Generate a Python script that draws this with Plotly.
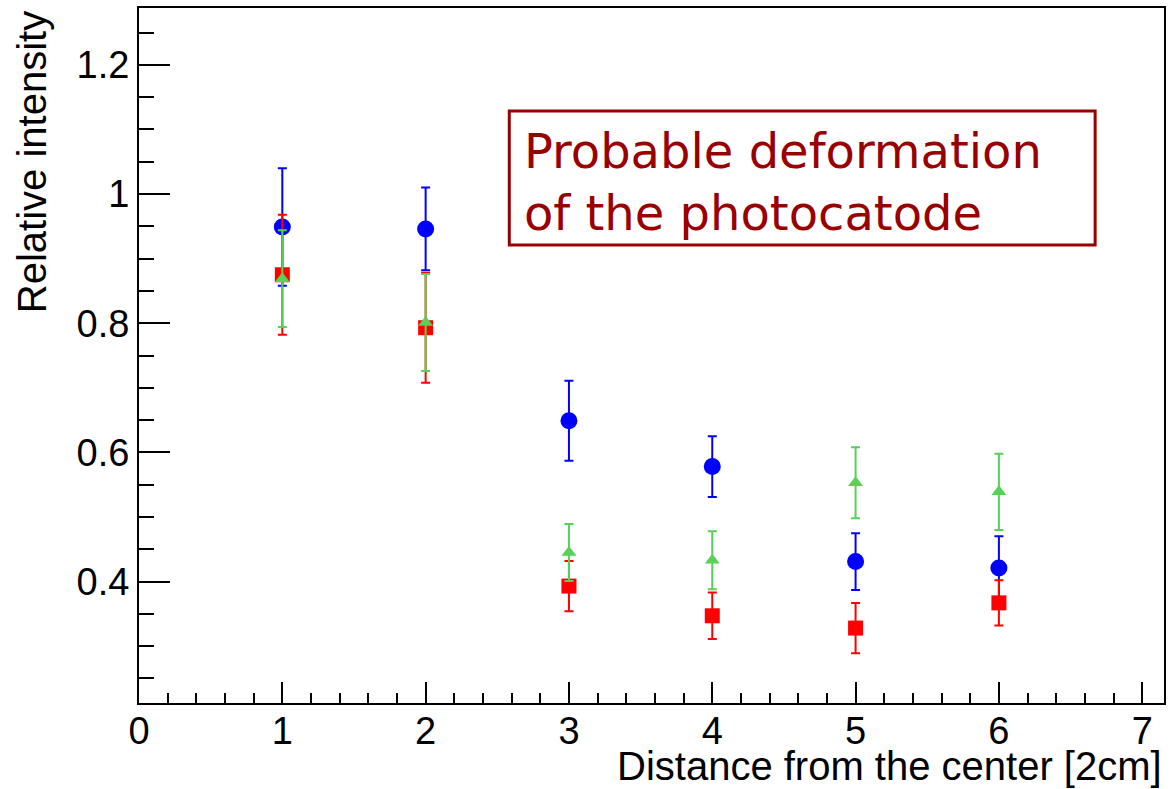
import plotly.graph_objects as go

# Data
x_pos = [1, 2, 3, 4, 5, 6]
blue_y = [0.949, 0.946, 0.649, 0.578, 0.431, 0.421]
blue_err = [0.091, 0.064, 0.062, 0.047, 0.044, 0.049]
red_y = [0.875, 0.793, 0.393, 0.347, 0.328, 0.367]
red_err = [0.093, 0.085, 0.039, 0.036, 0.039, 0.035]
green_y = [0.869, 0.801, 0.445, 0.433, 0.553, 0.539]
green_err = [0.075, 0.075, 0.044, 0.045, 0.055, 0.059]

x_title = "Distance from the center [2cm]"
y_title = "Relative intensity"
box_text = "Probable deformation<br>of the photocatode"

BLUE = "#0000ff"
RED = "#ff0000"
GREEN = "#57d157"
DARKRED = "#990000"

fig = go.Figure()

def add_series(y, err, color, symbol, size):
    fig.add_trace(go.Scatter(
        x=x_pos, y=y, mode="markers",
        marker=dict(color=color, symbol=symbol, size=size, line=dict(width=0)),
        error_y=dict(type="data", array=err, visible=True, color=color,
                     thickness=2, width=4.5),
        showlegend=False,
    ))

add_series(blue_y, blue_err, BLUE, "circle", 17)
add_series(red_y, red_err, RED, "square", 15)
add_series(green_y, green_err, GREEN, "triangle-up", 13)

W, H = 1172, 789
L, R, T, B = 139, 6, 8, 86

axis_common = dict(
    showline=True, linecolor="black", linewidth=2, mirror=True,
    ticks="inside", tickcolor="black", tickwidth=2,
    showgrid=False, zeroline=False,
    tickfont=dict(family="Liberation Sans, Arial, sans-serif", size=38, color="black"),
)

fig.update_xaxes(
    range=[0, 7.152], tick0=0, dtick=1, ticklen=21,
    minor=dict(dtick=0.2, tick0=0, ticks="inside", ticklen=10, tickwidth=2,
               tickcolor="black", showgrid=False),
    ticklabelstandoff=-7,
    **axis_common,
)
fig.update_yaxes(
    range=[0.212, 1.288], tick0=0, dtick=0.2, ticklen=31,
    minor=dict(dtick=0.05, tick0=0, ticks="inside", ticklen=15, tickwidth=2,
               tickcolor="black", showgrid=False),
    ticklabelstandoff=0,
    **axis_common,
)

pw = W - L - R
ph = H - T - B

def px_x(p):
    return (p - L) / pw

def px_y(p):
    return (H - B - p) / ph

fig.add_shape(type="rect", xref="paper", yref="paper",
              x0=px_x(510), x1=px_x(1097), y0=px_y(245), y1=px_y(111),
              line=dict(color=DARKRED, width=3), fillcolor="rgba(0,0,0,0)")

fig.add_annotation(xref="paper", yref="paper", x=px_x(523), y=px_y(182),
                   xanchor="left", yanchor="middle", align="left",
                   text=box_text, showarrow=False,
                   font=dict(family="DejaVu Sans", size=48, color=DARKRED))

fig.add_annotation(xref="paper", yref="paper", x=px_x(1166), y=px_y(766),
                   xanchor="right", yanchor="middle", text=x_title, showarrow=False,
                   font=dict(family="Liberation Sans, Arial, sans-serif", size=40, color="black"))

fig.add_annotation(xref="paper", yref="paper", x=px_x(32), y=px_y(162),
                   xanchor="center", yanchor="middle", textangle=-90,
                   text=y_title, showarrow=False,
                   font=dict(family="Liberation Sans, Arial, sans-serif", size=40, color="black"))

fig.update_layout(
    width=W, height=H,
    margin=dict(l=L, r=R, t=T, b=B, pad=0),
    paper_bgcolor="white", plot_bgcolor="white",
    showlegend=False,
)

fig.write_html("out.html", config={"displayModeBar": False},
               post_script="document.body.style.margin='0';document.body.style.overflow='hidden';")
